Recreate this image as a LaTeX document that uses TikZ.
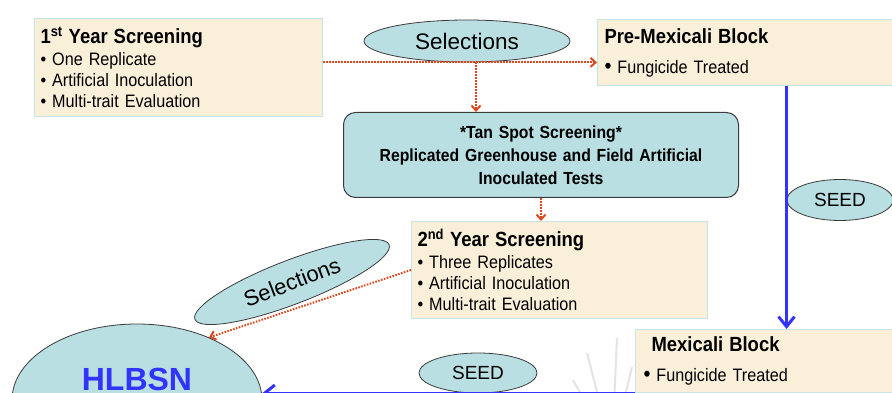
\documentclass[tikz,border=0pt]{standalone}
\usepackage{fontspec}
\setmainfont{Liberation Sans}[FakeStretch=0.9]
\newfontfamily\widefont{Liberation Sans}
\usetikzlibrary{arrows.meta, shapes.geometric}

\definecolor{parchment}{RGB}{250,240,218}
\definecolor{cardline}{RGB}{200,228,228}
\definecolor{ovalfill}{RGB}{185,223,227}
\definecolor{ovalline}{RGB}{60,60,60}
\definecolor{selred}{RGB}{222,72,30}
\definecolor{seedblue}{RGB}{51,51,255}

\begin{document}
\begin{tikzpicture}[
	x = 1pt, y = -1pt, % one unit = one pixel of the slide
	> = {Straight Barb[length=5pt, width=9pt]}, % open arrow head
	font = \fontsize{18}{21}\selectfont
	]
	
	\tikzstyle{card}=[
	draw = cardline,
	fill = parchment,
	line width = 1pt,
	anchor = north west,
	align = left,
	inner xsep = 6pt
	]
	\tikzstyle{oval}=[
	ellipse,
	draw = ovalline,
	fill = ovalfill,
	line width = 0.8pt,
	inner sep = 0pt,
	font = \widefont\fontsize{19}{22}\selectfont
	]
	\tikzstyle{select}=[draw = selred, line width = 2pt, dash pattern = on 1.6pt off 1.4pt, ->]
	\tikzstyle{seed}=[draw = seedblue, line width = 3pt, -{Straight Barb[length=10pt, width=16pt]}]
	
	\useasboundingbox (0,0) rectangle (892,393);
	\clip (0,0) rectangle (892,393);
	
	% faint rays behind the bottom block
	\foreach \ex/\ey in {632/367, 617/338, 587/353, 573/380}
		\draw[gray!22, line width=2pt] (612,450) -- (\ex,\ey);
	
	\node[card, minimum width=288, minimum height=98, text width=276] (yr1) at (34,18)
		{{\fontsize{20.5}{22}\bfseries 1\textsuperscript{st} Year Screening}\\[1pt]
		\textbullet\ One Replicate\\
		\textbullet\ Artificial Inoculation\\
		\textbullet\ Multi-trait Evaluation};
	\node[card, minimum width=378, minimum height=66, text width=364, inner xsep=7pt] (pre) at (597,19)
		{{\fontsize{20.5}{22}\bfseries Pre-Mexicali Block}\\[9pt]
		{\fontsize{22}{22}\selectfont\textbullet}\hspace{6pt}Fungicide Treated};
	\node[oval, minimum width=206, minimum height=42, font=\widefont\fontsize{22.5}{24}\selectfont] (sel) at (467,41) {Selections};
	\node[card, draw=ovalline, fill=ovalfill, rounded corners=12pt, minimum width=395, minimum height=85,
		text width=380, align=center, font=\fontsize{17.5}{23}\selectfont\bfseries] (tan) at (343,112)
		{*Tan Spot Screening*\\
		Replicated Greenhouse and Field Artificial\\
		Inoculated Tests};
	\node[card, minimum width=296, minimum height=97, text width=284] (yr2) at (411,221)
		{{\fontsize{20.5}{22}\bfseries 2\textsuperscript{nd} Year Screening}\\[1pt]
		\textbullet\ Three Replicates\\
		\textbullet\ Artificial Inoculation\\
		\textbullet\ Multi-trait Evaluation};
	\node[oval, minimum width=106, minimum height=41] (seedr) at (840,200) {SEED};
	\node[card, minimum width=302, minimum height=63, text width=270, inner xsep=16pt] (mex) at (635,329)
		{{\fontsize{20.5}{22}\bfseries Mexicali Block}\\[9pt]
		\hspace*{-8pt}{\fontsize{22}{22}\selectfont\textbullet}\hspace{6pt}Fungicide Treated};
	\node[oval, minimum width=118, minimum height=40] (seedb) at (478,373) {SEED};
	\node[oval, rotate=21, minimum width=208, minimum height=44, font=\widefont\fontsize{22}{24}\selectfont] (sel2) at (292,282) {Selections};
	\node[oval, minimum width=250, minimum height=152, text=seedblue, font=\widefont\fontsize{32}{34}\selectfont\bfseries] (hlbsn) at (137,400)
		{\raisebox{10pt}[0pt][0pt]{HLBSN}};
	
	\coordinate (split) at (476,62);
	\draw[select] (yr1.east |- sel.south) -- (pre.west |- sel.south);
	\draw[select] (split) -- (tan.north -| split);
	\draw[select] (tan.south) -- (yr2.north -| tan.south);
	\draw[select] (yr2.west) -- (hlbsn.41);
	
	\draw[seed] (pre.south) -- (mex.north);
	\draw[seed] (mex.south west) -- (mex.south west -| hlbsn.east);
	
\end{tikzpicture}
\end{document}
